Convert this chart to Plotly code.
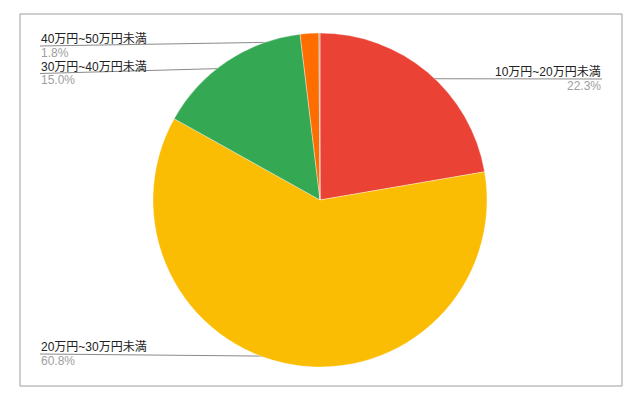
import math
import plotly.graph_objects as go

# data
categories = ["10万円~20万円未満", "20万円~30万円未満", "30万円~40万円未満", "40万円~50万円未満", "その他"]
shares = [22.3, 60.8, 15.0, 1.8, 0.1]
show_label = [True, True, True, True, False]
colors = ["#EA4335", "#FBBC04", "#34A853", "#FF6D01", "#A8A8A0"]

W, H = 643, 404
OFF = 8  # page body margin pushes the figure 8px right/down
CX, CY, R = 320 - OFF, 200 - OFF, 167  # pie centre / radius in figure pixels

# where each label block sits (pixel y of the leader line, side)
label_line_y = [79, 354, 73.5, 46, None]
label_side = ["right", "left", "left", "left", None]
LEFT_X, RIGHT_X = 40, 602

fig = go.Figure()

fig.add_trace(go.Pie(
    labels=categories,
    values=shares,
    sort=False,
    direction="clockwise",
    rotation=0,
    marker=dict(colors=colors, line=dict(color="rgba(255,255,255,0.6)", width=0.6)),
    textinfo="none",
    hoverinfo="label+percent",
    showlegend=False,
    domain=dict(x=[(CX - R) / W, (CX + R) / W], y=[1 - (CY + R) / H, 1 - (CY - R) / H]),
))

# anchor points on each slice (midpoint angle, 95% of radius)
total = sum(shares)
cum = 0
for i, v in enumerate(shares):
    mid = (cum + v / 2) / total * 2 * math.pi
    cum += v
    if not show_label[i]:
        continue
    ax = CX + 0.95 * R * math.sin(mid)
    ay = CY - 0.95 * R * math.cos(mid)
    ly = label_line_y[i] - OFF
    tx = (LEFT_X if label_side[i] == "left" else RIGHT_X) - OFF
    fig.add_trace(go.Scatter(
        x=[tx, ax], y=[ly, ay], mode="lines",
        line=dict(color="#8a8a8a", width=1), hoverinfo="skip", showlegend=False,
    ))
    fig.add_trace(go.Scatter(
        x=[ax], y=[ay], mode="markers",
        marker=dict(color="#a0a0a0", size=4), hoverinfo="skip", showlegend=False,
    ))
    anchor = "left" if label_side[i] == "left" else "right"
    fig.add_annotation(x=tx, y=ly - 7, text=categories[i], showarrow=False,
                       xanchor=anchor, yanchor="middle", borderpad=0,
                       font=dict(size=12, color="#222222"))
    fig.add_annotation(x=tx, y=ly + 6.5, text=f"{shares[i]:.1f}%", showarrow=False,
                       xanchor=anchor, yanchor="middle", borderpad=0,
                       font=dict(size=12, color="#9e9e9e"))

fig.add_shape(type="rect", x0=20 - OFF, y0=14 - OFF, x1=622 - OFF, y1=386 - OFF,
              line=dict(color="#9e9e9e", width=1), layer="above")

fig.update_layout(
    width=W, height=H,
    margin=dict(l=0, r=0, t=0, b=0),
    paper_bgcolor="white", plot_bgcolor="rgba(0,0,0,0)",
    font=dict(family="Arial, 'Liberation Sans', 'Noto Sans CJK JP'"),
    xaxis=dict(range=[0, W], visible=False, fixedrange=True),
    yaxis=dict(range=[H, 0], visible=False, fixedrange=True),
)

fig.write_html("out.html")
